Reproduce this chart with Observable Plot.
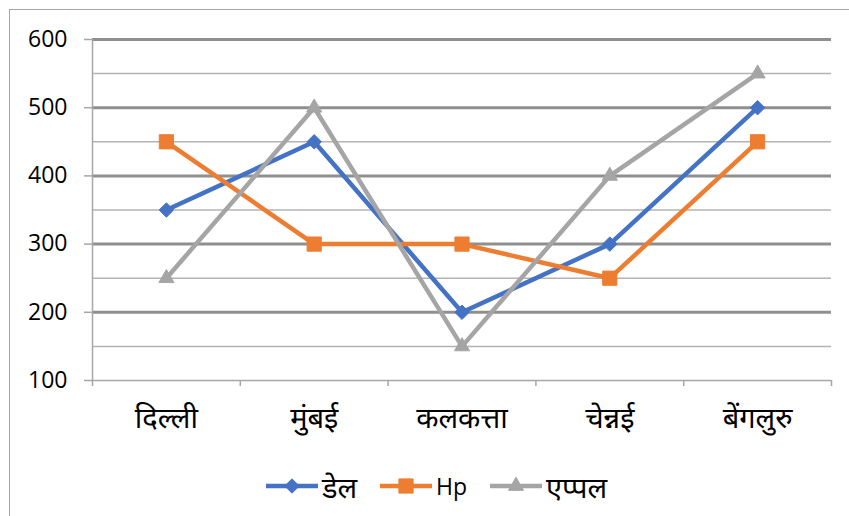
<!DOCTYPE html>
<html><head><meta charset="utf-8">
<script src="https://cdn.jsdelivr.net/npm/d3@7"></script>
<script src="https://cdn.jsdelivr.net/npm/@observablehq/plot@0.6"></script>
<style>
body{margin:0;background:#fff;font-family:"Open Sans","Noto Sans",sans-serif;}
#frame{position:absolute;left:9px;top:9px;width:900px;height:600px;border-left:1.5px solid #a6a6a6;border-top:1.5px solid #a6a6a6;pointer-events:none;}
#chart{position:absolute;left:0;top:0;}
#legend{position:absolute;left:266px;top:471px;height:30px;color:#000;}
#legend .item{position:absolute;top:0;display:flex;align-items:center;height:30px;white-space:nowrap;}
#legend span{margin-left:4px;}
</style></head><body>
<div id="chart"></div>
<div id="legend"></div>
<div id="frame"></div>
<script>
const cities = ["दिल्ली","मुंबई","कलकत्ता","चेन्नई","बेंगलुरु"];
const seriesNames = ["डेल","Hp","एप्पल"];
const dell = [350,450,200,300,500];
const hp = [450,300,300,250,450];
const apple = [250,500,150,400,550];
const majorTicks = [100,200,300,400,500,600];
const minorTicks = [150,250,350,450,550];
const colors = ["#4472C4","#ED7D31","#A5A5A5"];
const symbols = ["diamond2","square","triangle"];
const symbolR = [6.5,8,5.6];

const values = [dell,hp,apple];
const data = seriesNames.flatMap((s,k)=>values[k].map((v,i)=>({series:s,i,city:cities[i],value:v})));
const boundaries = d3.range(cities.length+1).map(i=>i-0.5);
const fs = 23;   // numbers / Latin
const fsDeva = 29; // Devanagari

const plot = Plot.plot({
  width:849, height:455,
  marginLeft:92, marginRight:18, marginTop:39, marginBottom:75,
  style:{fontFamily:"'Open Sans','Noto Sans',sans-serif", fontSize:fs+"px", color:"#000", background:"transparent", overflow:"visible"},
  x:{domain:[-0.5,cities.length-0.5], axis:null},
  y:{domain:[100,600], axis:null},
  marks:[
    Plot.ruleY(minorTicks,{stroke:"#b3b3b3",strokeWidth:1.5}),
    Plot.ruleY(majorTicks.filter(t=>t>100),{stroke:"#8f8f8f",strokeWidth:3}),
    Plot.ruleY([100],{stroke:"#a6a6a6",strokeWidth:1.5}),
    Plot.axisY({ticks:majorTicks, tickSize:8, tickPadding:17, fontSize:fs, stroke:"#a6a6a6", strokeWidth:1.5, fill:"#000", anchor:"left", label:null}),
    Plot.ruleX([-0.5],{y1:100,y2:600,stroke:"#a6a6a6",strokeWidth:1.5}),
    Plot.axisX({ticks:boundaries, tickSize:6, tickFormat:()=>"", stroke:"#a6a6a6", strokeWidth:1.5, label:null}),
    Plot.axisX({ticks:d3.range(cities.length), tickSize:0, tickPadding:27, tickFormat:i=>cities[i], fontSize:fsDeva, fill:"#000", label:null}),
    ...seriesNames.flatMap((s,k)=>[
      Plot.line(data.filter(d=>d.series===s),{x:"i",y:"value",stroke:colors[k],strokeWidth:4.5}),
      Plot.dot(data.filter(d=>d.series===s),{x:"i",y:"value",symbol:()=>symbols[k],fill:colors[k],stroke:colors[k],strokeWidth:1,r:symbolR[k]})
    ])
  ]
});
document.getElementById("chart").append(plot);

// legend
const leg = document.getElementById("legend");
const symMap = {diamond2:d3.symbolDiamond2, square:d3.symbolSquare, triangle:d3.symbolTriangle};
const legLeft = [0,114,224];
seriesNames.forEach((s,k)=>{
  const item = document.createElement("div");
  item.className="item";
  item.style.left = legLeft[k]+"px";
  const w=52,h=20;
  const svg = d3.create("svg").attr("width",w).attr("height",h);
  svg.append("line").attr("x1",0).attr("x2",w).attr("y1",h/2).attr("y2",h/2).attr("stroke",colors[k]).attr("stroke-width",4.5);
  const size = Math.PI*symbolR[k]*symbolR[k];
  svg.append("path").attr("d",d3.symbol(symMap[symbols[k]],size)()).attr("transform",`translate(${w/2},${h/2})`).attr("fill",colors[k]).attr("stroke",colors[k]);
  item.append(svg.node());
  const t=document.createElement("span"); t.textContent=s;
  t.style.fontSize = (/^[\x00-\x7F]+$/.test(s) ? fs : fsDeva) + "px";
  item.append(t);
  leg.append(item);
});
</script>
</body></html>
